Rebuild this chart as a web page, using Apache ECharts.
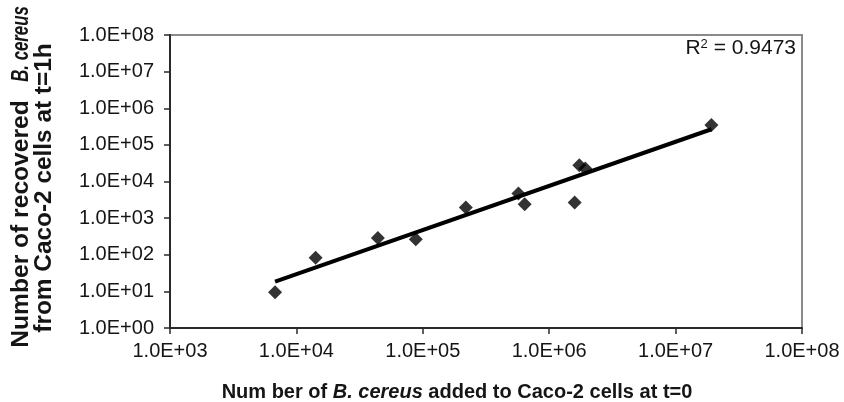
<!DOCTYPE html>
<html>
<head>
<meta charset="utf-8">
<script src="https://cdn.jsdelivr.net/npm/echarts@6/dist/echarts.min.js"></script>
<style>
html,body{margin:0;padding:0;background:#fff;}
#chart{width:844px;height:402px;}
</style>
</head>
<body>
<div id="chart"></div>
<script>
// Data
var addedCells = [6780, 14200, 44100, 88000, 219000, 571000, 640000, 1590000, 1730000, 1930000, 19200000];
var recoveredCells = [9.4, 83, 285, 267, 1950, 4700, 2400, 2670, 27900, 22600, 351000];
var trendX = [6780, 19200000];
var trendY = [18.4, 267000];
var xTickLabels = ['1.0E+03', '1.0E+04', '1.0E+05', '1.0E+06', '1.0E+07', '1.0E+08'];
var yTickLabels = ['1.0E+00', '1.0E+01', '1.0E+02', '1.0E+03', '1.0E+04', '1.0E+05', '1.0E+06', '1.0E+07', '1.0E+08'];
var rSquaredText = '0.9473';

var FONT = "'Liberation Sans', Arial, Helvetica, sans-serif";
var TEXT = '#151515';

var points = addedCells.map(function (x, i) { return [x, recoveredCells[i]]; });
var trend = trendX.map(function (x, i) { return [x, trendY[i]]; });

function yTitle(text, x, y, italic, sx) {
  return {
    type: 'text', x: x, y: y, rotation: Math.PI / 2, scaleX: sx, scaleY: 1,
    style: {
      text: text, align: 'center', verticalAlign: 'middle', fill: TEXT,
      font: (italic ? 'italic ' : '') + 'bold 23px ' + FONT
    }
  };
}

var chart = echarts.init(document.getElementById('chart'));
chart.setOption({
  animation: false,
  backgroundColor: '#fff',
  grid: {
    left: 170, right: 42, top: 35, bottom: 74,
    show: true, borderColor: '#8a8a8a', borderWidth: 2, backgroundColor: 'transparent'
  },
  xAxis: {
    type: 'log', logBase: 10, min: 1e3, max: 1e8, interval: 1,
    axisLine: { show: true, onZero: false, lineStyle: { color: '#2a2a2a', width: 2 } },
    axisTick: { show: true, inside: false, length: 6, lineStyle: { color: '#2a2a2a', width: 1.5 } },
    minorTick: { show: false },
    splitLine: { show: false },
    axisLabel: {
      margin: 13, color: TEXT, fontFamily: FONT, fontSize: 20,
      formatter: function (v) { return xTickLabels[Math.round(Math.log10(v)) - 3]; }
    }
  },
  yAxis: {
    type: 'log', logBase: 10, min: 1, max: 1e8, interval: 1,
    axisLine: { show: true, onZero: false, lineStyle: { color: '#2a2a2a', width: 2 } },
    axisTick: { show: true, inside: false, length: 6, lineStyle: { color: '#2a2a2a', width: 1.5 } },
    minorTick: { show: false },
    splitLine: { show: false },
    axisLabel: {
      margin: 16, color: TEXT, fontFamily: FONT, fontSize: 20,
      formatter: function (v) { return yTickLabels[Math.round(Math.log10(v))]; }
    }
  },
  series: [
    {
      type: 'line', data: trend, symbol: 'none', silent: true, z: 2,
      lineStyle: { color: '#000', width: 4 }
    },
    {
      type: 'scatter', data: points, symbol: 'diamond', symbolSize: [14, 14], z: 3,
      itemStyle: { color: '#000' }
    }
  ],
  graphic: [
    {
      type: 'text', x: 796, y: 38,
      style: {
        text: 'R{sup|2} = ' + rSquaredText,
        align: 'right', verticalAlign: 'top',
        font: '21px ' + FONT, fill: TEXT,
        rich: { sup: { fontSize: 13, fontFamily: FONT, verticalAlign: 'top', padding: [0, 0, 8, 0], fill: TEXT } }
      }
    },
    {
      type: 'text', x: 457, y: 392,
      style: {
        text: '{b|Num ber of }{bi|B. cereus}{b| added to Caco-2 cells at t=0}',
        align: 'center', verticalAlign: 'middle', fill: TEXT,
        rich: {
          b: { fontFamily: FONT, fontWeight: 'bold', fontSize: 20, fill: TEXT },
          bi: { fontFamily: FONT, fontWeight: 'bold', fontStyle: 'italic', fontSize: 20, fill: TEXT }
        }
      }
    },
    yTitle('Number of recovered', 22, 224, false, 1.07),
    yTitle('B. cereus', 22, 44, true, 0.73),
    yTitle('from Caco-2 cells at t=1h', 45, 188, false, 1.06)
  ]
});
</script>
</body>
</html>
